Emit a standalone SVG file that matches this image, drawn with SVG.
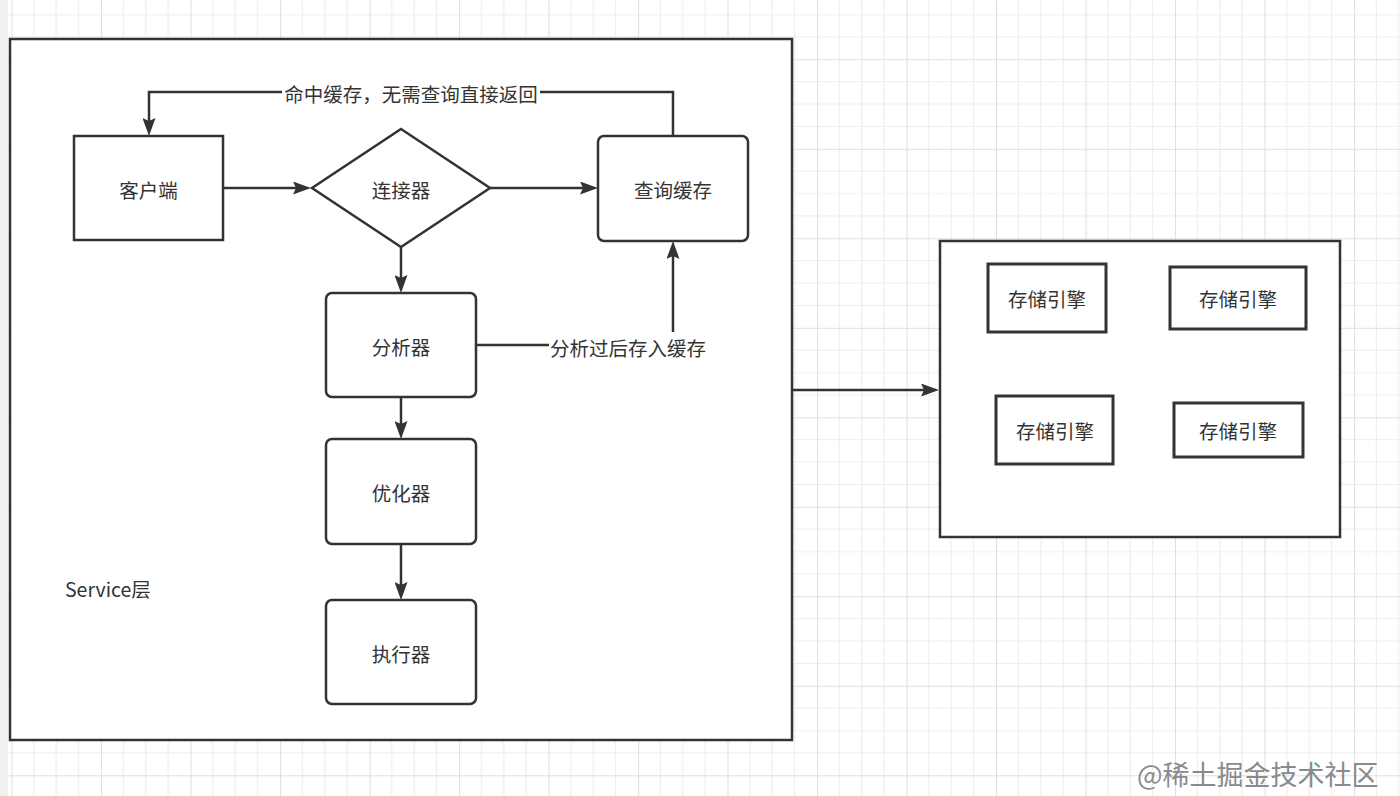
<svg xmlns="http://www.w3.org/2000/svg" width="1400" height="796" viewBox="0 0 1400 796">
<style>
.box{fill:#fff;stroke:#333;stroke-width:2.5}
.eng{fill:#fff;stroke:#333;stroke-width:3}
.lbl{font-family:"Noto Sans CJK SC","Microsoft YaHei",sans-serif;font-size:19.5px;fill:#333;text-anchor:middle;dominant-baseline:central}
.edge{fill:none;stroke:#333;stroke-width:2.5;marker-end:url(#arrow)}
.bg{fill:#fff}
</style>
<defs>
<marker id="arrow" markerUnits="userSpaceOnUse" viewBox="0 0 18 13" markerWidth="18" markerHeight="13" refX="12" refY="6.5" orient="auto">
<path d="M0,0 L18,6.5 L0,13 L3,6.5 Z" fill="#333"/>
</marker>
<pattern id="grid" patternUnits="userSpaceOnUse" x="11.5" y="-30.2" width="89.5" height="89.5">
<path d="M22.375,0V89.5M44.75,0V89.5M67.125,0V89.5M0,22.375H89.5M0,44.75H89.5M0,67.125H89.5" stroke="#ededed" stroke-width="1.2" fill="none"/>
<path d="M0.5,0V89.5M0,0.5H89.5" stroke="#e0e0e0" stroke-width="1.2" fill="none"/>
</pattern>
</defs>
<rect width="1400" height="796" fill="#fff"/>
<rect width="1400" height="796" fill="url(#grid)"/>
<rect x="0" y="0" width="8" height="796" fill="#f1f1f1"/>

<g id="service-layer">
<rect class="box" x="10" y="39" width="782" height="701"/>
<text x="65" y="588" class="lbl" style="text-anchor:start">Service层</text>
</g>

<g id="storage-layer">
<rect class="box" x="940" y="241" width="400" height="296"/>
</g>

<g id="client">
<rect class="box" x="74" y="136" width="149" height="104"/>
<text x="148.5" y="189" class="lbl">客户端</text>
</g>
<g id="connector">
<polygon class="box" points="401,129 490,188 401,247 312,188"/>
<text x="401" y="189" class="lbl">连接器</text>
</g>
<g id="query-cache">
<rect class="box" x="598" y="136" width="150" height="105" rx="6"/>
<text x="673" y="189" class="lbl">查询缓存</text>
</g>
<g id="analyzer">
<rect class="box" x="326" y="293" width="150" height="104" rx="6"/>
<text x="401" y="346" class="lbl">分析器</text>
</g>
<g id="optimizer">
<rect class="box" x="326" y="439" width="150" height="105" rx="6"/>
<text x="401" y="492" class="lbl">优化器</text>
</g>
<g id="executor">
<rect class="box" x="326" y="600" width="150" height="104" rx="6"/>
<text x="401" y="653" class="lbl">执行器</text>
</g>

<g id="engine-1">
<rect class="eng" x="988" y="264" width="118" height="68"/>
<text x="1047" y="298" class="lbl">存储引擎</text>
</g>
<g id="engine-2">
<rect class="eng" x="1170" y="267" width="136" height="62"/>
<text x="1238" y="298" class="lbl">存储引擎</text>
</g>
<g id="engine-3">
<rect class="eng" x="996" y="396" width="117" height="68"/>
<text x="1055" y="430" class="lbl">存储引擎</text>
</g>
<g id="engine-4">
<rect class="eng" x="1174" y="403" width="129" height="54"/>
<text x="1238" y="430" class="lbl">存储引擎</text>
</g>

<g id="connectors">
<path class="edge" d="M223,188 H305"/>
<path class="edge" d="M490,188 H592"/>
<path class="edge" d="M673,136 V92 H149 V130"/>
<path class="edge" d="M401,247 V287"/>
<path class="edge" d="M476,345 H673 V247"/>
<path class="edge" d="M401,397 V433"/>
<path class="edge" d="M401,544 V594"/>
<path class="edge" d="M792,390 H933"/>
<rect class="bg" x="282" y="81" width="258" height="23"/>
<text x="411" y="93" class="lbl">命中缓存，无需查询直接返回</text>
<rect class="bg" x="549" y="332" width="158" height="27"/>
<text x="628" y="347" class="lbl">分析过后存入缓存</text>
</g>

<text x="1137" y="773" style="font-family:'Noto Sans CJK SC',sans-serif;font-size:27px;fill:#8a8a8a;dominant-baseline:central">@稀土掘金技术社区</text>
</svg>
